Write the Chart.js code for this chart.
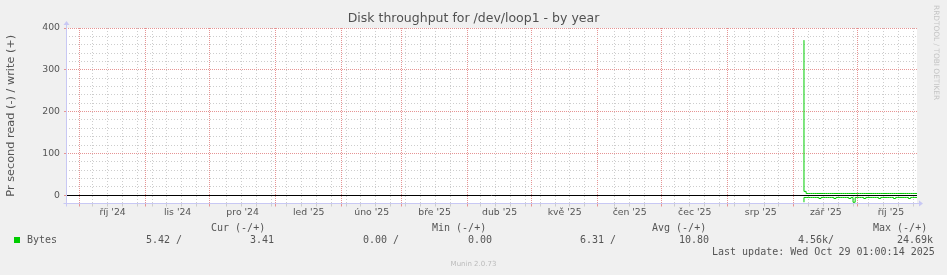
<!DOCTYPE html>
<html><head><meta charset="utf-8">
<script src="https://cdn.jsdelivr.net/npm/chart.js@4.4.1/dist/chart.umd.min.js"></script>
<style>
html,body{margin:0;padding:0;background:#f0f0f0;}
#wrap{position:relative;width:947px;height:275px;overflow:hidden;background:#f0f0f0;}
canvas{position:absolute;left:0;top:0;}
.t{position:absolute;white-space:pre;font-family:'DejaVu Sans Mono',monospace;font-size:10px;line-height:12px;color:#555;}
#wm{position:absolute;left:930px;top:5px;writing-mode:vertical-rl;font-family:'DejaVu Sans',sans-serif;font-size:7.4px;color:#c4c4c4;white-space:nowrap;line-height:12px;}
#munin{position:absolute;left:0;width:947px;top:258px;text-align:center;font-family:'DejaVu Sans',sans-serif;font-size:7px;line-height:12px;color:#bbb;}
#sq{position:absolute;left:14px;top:237px;width:6px;height:6px;background:#00cc00;}
</style></head>
<body><div id="wrap"><canvas id="c" width="947" height="275"></canvas>
<div id="wm"></div><div id="munin"></div><div id="sq"></div>
</div>
<script>
// ---- data ----
const chartTitle = 'Disk throughput for /dev/loop1 - by year';
const yAxisTitle = 'Pr second read (-) / write (+)';
const watermark = 'RRDTOOL / TOBI OETIKER';
const footer = 'Munin 2.0.73';
const monthNames = ['led','úno','bře','dub','kvě','čen','čec','srp','zář','říj','lis','pro'];
const yLabelTicks = [0, 100, 200, 300, 400];
const yMinorTicks = [20, 40, 60, 80, 120, 140, 160, 180, 220, 240, 260, 280, 320, 340, 360, 380];
const seriesName = 'Bytes';
// daily averages starting 2025-09-05, one value per day
const writeValues = [371, 9, 4, 4, 4, 4, 4, 4, 4, 4, 4, 4, 4, 4, 4, 4, 4, 4, 4, 4, 4, 4, 4, 4, 4, 4, 4,
  4, 4, 4, 4, 4, 4, 4, 4, 4, 4, 4, 4, 4, 4, 4, 4, 4, 4, 4, 4, 4, 4, 4, 4, 4, 4, 4];
const readValues = [-17, -5.5, -5.5, -5.5, -5.5, -5.5, -5.5, -5.5, -8, -5.5, -5.5, -5.5, -5.5, -5.5, -5.5, -8,
  -5.5, -5.5, -5.5, -5.5, -5.5, -5.5, -8, -5.5, -17, -5.5, -5.5, -5.5, -5.5, -8, -5.5, -5.5, -5.5, -5.5, -5.5, -5.5,
  -8, -5.5, -5.5, -5.5, -5.5, -5.5, -5.5, -8, -5.5, -5.5, -5.5, -5.5, -5.5, -5.5, -8, -5.5, -5.5, -5.5];
const legendHeaders = ['Cur (-/+)', 'Min (-/+)', 'Avg (-/+)', 'Max (-/+)'];
const readStats = ['5.42 /', '0.00 /', '6.31 /', '4.56k/'];
const writeStats = ['3.41', '0.00', '10.80', '24.69k'];
const lastUpdate = 'Last update: Wed Oct 29 01:00:14 2025';
const seriesStart = Date.UTC(2025, 8, 5, 18);
const rangeStart = Date.UTC(2024, 8, 24, 16);
const rangeEnd = Date.UTC(2025, 9, 28, 18);

// ---- layout of legend (positions) ----
const headerX = [211, 432, 652, 873];
const readX = [146, 363, 580, 798];
const writeX = [250, 468, 679, 897];

const DAY = 86400000;
const wrap = document.getElementById('wrap');
function addText(txt, x, y) {
  const d = document.createElement('div');
  d.className = 't'; d.textContent = txt;
  d.style.left = x + 'px'; d.style.top = y + 'px';
  wrap.appendChild(d);
}
legendHeaders.forEach((h, i) => addText(h, headerX[i], 222));
addText(seriesName, 27, 234);
readStats.forEach((h, i) => addText(h, readX[i], 234));
writeStats.forEach((h, i) => addText(h, writeX[i], 234));
addText(lastUpdate, 712, 246);
document.getElementById('wm').textContent = watermark;
document.getElementById('munin').textContent = footer;

// x ticks: month starts (major), Mondays (minor), mid-month labels
const majorSet = new Set();
const minorSet = new Set();
const xLabel = new Map();
const monthStarts = [];
for (let y = 2024, m = 8; ; ) {
  const t = Date.UTC(y, m, 1);
  if (t > rangeEnd + 40 * DAY) break;
  monthStarts.push({t, y, m});
  m++; if (m > 11) { m = 0; y++; }
}
monthStarts.forEach((ms, i) => {
  if (ms.t >= rangeStart && ms.t <= rangeEnd) majorSet.add(ms.t);
  const nx = monthStarts[i + 1];
  if (nx) {
    const mid = (ms.t + nx.t) / 2;
    if (mid >= rangeStart && mid <= rangeEnd) xLabel.set(mid, monthNames[ms.m] + " '" + String(ms.y).slice(2));
  }
});
for (let mon = Date.UTC(2024, 8, 30); mon <= rangeEnd; mon += 7 * DAY) {
  if (mon < rangeStart) continue;
  const near = monthStarts.some(ms => Math.abs(ms.t - mon) <= DAY);
  if (!near) minorSet.add(mon);
}
const xTicks = Array.from(new Set([...majorSet, ...minorSet, ...xLabel.keys()])).sort((a, b) => a - b);

const toPts = vals => vals.map((v, i) => ({x: seriesStart + i * DAY, y: v}));

const RED = '#e69494';
const GRAY = '#cdcdcd';
const NONE = 'rgba(0,0,0,0)';
const AXIS = '#c8c8f4';
const xColor = c => { const v = c.tick && c.tick.value; return majorSet.has(v) ? RED : minorSet.has(v) ? GRAY : NONE; };
const yColor = c => { const v = c.tick && c.tick.value; return v === 0 ? NONE : yLabelTicks.includes(v) ? RED : GRAY; };

const bgPlugin = {
  id: 'bg',
  beforeDraw(chart) {
    const {ctx, chartArea: a} = chart;
    ctx.save(); ctx.fillStyle = '#ffffff';
    ctx.fillRect(a.left, a.top, a.right - a.left, a.bottom - a.top);
    ctx.restore();
  },
  beforeDatasetsDraw(chart) {
    const {ctx, chartArea: a, scales} = chart;
    const y0 = Math.round(scales.y.getPixelForValue(0)) + 0.5;
    ctx.save(); ctx.strokeStyle = '#000'; ctx.lineWidth = 1;
    ctx.beginPath(); ctx.moveTo(a.left, y0); ctx.lineTo(a.right, y0); ctx.stroke();
    ctx.restore();
  },
  afterDraw(chart) {
    const {ctx, chartArea: a} = chart;
    ctx.save(); ctx.strokeStyle = AXIS; ctx.fillStyle = AXIS; ctx.lineWidth = 1;
    const lx = Math.round(a.left) + 0.5, by = Math.floor(a.bottom) + 0.5;
    ctx.beginPath(); ctx.moveTo(lx, by + 3); ctx.lineTo(lx, a.top - 4); ctx.stroke();
    ctx.beginPath(); ctx.moveTo(lx - 3, a.top - 3); ctx.lineTo(lx + 3, a.top - 3); ctx.lineTo(lx, a.top - 7); ctx.closePath(); ctx.fill();
    ctx.beginPath(); ctx.moveTo(lx - 3, by); ctx.lineTo(a.right + 2, by); ctx.stroke();
    ctx.beginPath(); ctx.moveTo(a.right + 2, by - 3); ctx.lineTo(a.right + 2, by + 3); ctx.lineTo(a.right + 6, by); ctx.closePath(); ctx.fill();
    ctx.restore();
  }
};

new Chart(document.getElementById('c'), {
  type: 'line',
  data: {
    datasets: [
      {label: 'write', data: toPts(writeValues), borderColor: '#00cc00', borderWidth: 1, pointRadius: 0, stepped: 'after', fill: false},
      {label: 'read', data: toPts(readValues), borderColor: '#00cc00', borderWidth: 1, pointRadius: 0, stepped: 'after', fill: false}
    ]
  },
  options: {
    responsive: false, animation: false, devicePixelRatio: 1,
    layout: {padding: 0},
    plugins: {
      legend: {display: false}, tooltip: {enabled: false},
      title: {display: true, text: chartTitle, color: '#505050',
        font: {family: 'DejaVu Sans', size: 12.5, weight: 'normal', lineHeight: 1.2},
        padding: {top: 11, bottom: 2}}
    },
    scales: {
      x: {
        type: 'linear', position: 'bottom', min: rangeStart, max: rangeEnd,
        afterBuildTicks: s => { s.ticks = xTicks.map(v => ({value: v})); },
        afterFit: s => { s.height = 71.5; },
        ticks: {autoSkip: false, maxRotation: 0, minRotation: 0, padding: 1, color: '#555',
          font: {family: 'DejaVu Sans', size: 9.3},
          callback: v => xLabel.get(v) || ''},
        grid: {color: xColor, tickColor: xColor, lineWidth: 1, tickLength: 3, drawTicks: true},
        border: {display: false, dash: c => majorSet.has(c.tick && c.tick.value) ? [1, 1] : [1, 2]}
      },
      y: {
        type: 'linear', position: 'left', min: -20, max: 400,
        afterBuildTicks: s => { s.ticks = yLabelTicks.concat(yMinorTicks).sort((a, b) => a - b).map(v => ({value: v})); },
        afterFit: s => { s.width = 66; },
        ticks: {autoSkip: false, padding: 4, color: '#555', font: {family: 'DejaVu Sans', size: 9.3},
          callback: v => yLabelTicks.includes(v) ? String(v) : ''},
        grid: {
          color: yColor,
          tickColor: c => yLabelTicks.includes(c.tick && c.tick.value) ? RED : NONE,
          lineWidth: 1, tickLength: 2, drawTicks: true
        },
        border: {display: false, dash: c => yLabelTicks.includes(c.tick && c.tick.value) ? [1, 1] : [1, 2]},
        title: {display: true, text: yAxisTitle, color: '#555',
          font: {family: 'DejaVu Sans', size: 11.3, lineHeight: 1.2}, padding: {top: 4, bottom: 0}}
      },
      yRightSpace: {
        type: 'linear', position: 'right', display: true,
        afterFit: s => { s.width = 30; },
        ticks: {display: false}, grid: {display: false, drawTicks: false}, border: {display: false}
      }
    }
  },
  plugins: [bgPlugin]
});
</script>
</body></html>
